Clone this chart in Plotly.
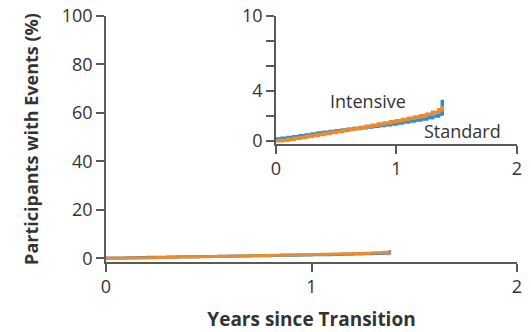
import plotly.graph_objects as go

years = [0, 0.05, 0.1, 0.15, 0.2, 0.25, 0.3, 0.35, 0.4, 0.45, 0.5, 0.55, 0.6, 0.65, 0.7,
         0.75, 0.8, 0.85, 0.9, 0.95, 1.0, 1.05, 1.1, 1.15, 1.2, 1.25, 1.3, 1.35, 1.38]
intensive = [0, 0.05, 0.12, 0.2, 0.28, 0.36, 0.44, 0.52, 0.6, 0.68, 0.76, 0.84, 0.92, 1.0, 1.08,
             1.17, 1.26, 1.35, 1.44, 1.53, 1.62, 1.72, 1.82, 1.92, 2.02, 2.13, 2.3, 2.5, 2.8]
standard = [0.15, 0.2, 0.27, 0.34, 0.41, 0.48, 0.55, 0.63, 0.7, 0.76, 0.82, 0.88, 0.94, 1.0, 1.06,
            1.12, 1.18, 1.24, 1.3, 1.36, 1.44, 1.52, 1.6, 1.68, 1.76, 1.86, 2.0, 2.15, 3.3]

main_yticks = [0, 20, 40, 60, 80, 100]
inset_yticks = [0, 2, 4, 6, 8, 10]
inset_yticklabels = ["0", "", "4", "", "", "10"]
xticks = [0, 1, 2]

BLUE = "#2b8fd8"
ORANGE = "#ec8a2c"
AX = "#5a5a5a"
TXT = "#333333"
FONT = "Open Sans"

fig = go.Figure()
for xa, ya, w in [("x", "y", 3), ("x2", "y2", 3.5)]:
    fig.add_trace(go.Scatter(x=years, y=standard, mode="lines", line=dict(color=BLUE, width=w, shape="hv"),
                             xaxis=xa, yaxis=ya, name="Standard", showlegend=False))
    fig.add_trace(go.Scatter(x=years, y=intensive, mode="lines", line=dict(color=ORANGE, width=w, shape="hv"),
                             xaxis=xa, yaxis=ya, name="Intensive", showlegend=False))

axis_common = dict(showgrid=False, zeroline=False, showline=True, linecolor=AX, linewidth=1.5,
                   ticks="outside", tickcolor=AX, tickwidth=1.5, ticklen=8, automargin=False,
                   tickfont=dict(family=FONT, size=18, color=TXT))

fig.update_layout(
    width=531, height=332,
    margin=dict(l=106, r=14, t=16, b=70),
    paper_bgcolor="white", plot_bgcolor="white",
    xaxis=dict(range=[0, 2], tickvals=xticks, domain=[0, 1], anchor="y",
               title=dict(text="<b>Years since Transition</b>", font=dict(family=FONT, size=19, color=TXT), standoff=20),
               **axis_common),
    yaxis=dict(range=[-1.5, 100], tickvals=main_yticks, domain=[0, 1], anchor="x",
               title=dict(text="<b>Participants with Events (%)</b>", font=dict(family=FONT, size=18, color=TXT), standoff=18),
               **axis_common),
    xaxis2=dict(range=[0, 2], tickvals=xticks, domain=[0.4136, 1.0], anchor="y2", **axis_common),
    yaxis2=dict(range=[-0.25, 10], tickvals=inset_yticks, ticktext=inset_yticklabels,
                domain=[0.4797, 1.0], anchor="x2", **axis_common),
)

fig.add_annotation(x=0.76, y=3.2, xref="x2", yref="y2", text="Intensive", showarrow=False,
                   font=dict(family=FONT, size=18, color=TXT))
fig.add_annotation(x=1.55, y=0.8, xref="x2", yref="y2", text="Standard", showarrow=False,
                   font=dict(family=FONT, size=18, color=TXT))

fig.write_html("out.html")
